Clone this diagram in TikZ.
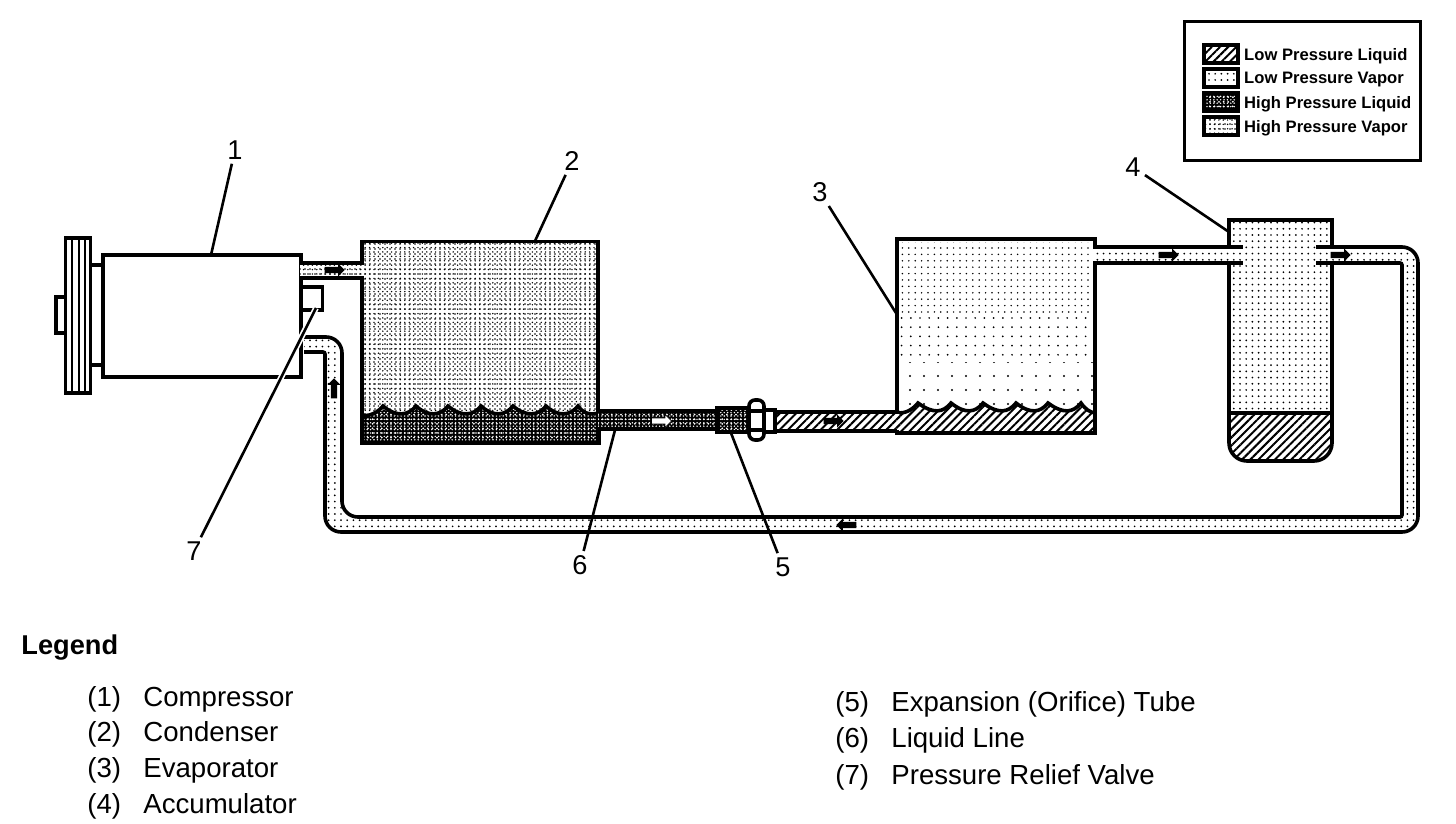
\documentclass[tikz,border=0pt]{standalone}
\usepackage{fontspec}
\setmainfont{Liberation Sans}
\usepackage{tikz}
\usetikzlibrary{positioning, shapes.arrows, patterns.meta}
\tikzset{
    lowliquid/.style={preaction={fill=white}, pattern={Lines[angle=45,distance=2.9pt,line width=1pt]}},
    lowvapor/.style={preaction={fill=white}, pattern={Dots[distance=3.1pt,radius=.48pt]}},
    highliquid/.style={preaction={fill=black}, preaction={pattern={Dots[distance=2.3pt,radius=.5pt]}, pattern color=white}, pattern={Dots[distance=1.7pt,radius=.4pt]}, pattern color=white},
    highvapor/.style={preaction={fill=white}, preaction={pattern={Dots[distance=2.5pt,radius=.42pt]}}, pattern={Dots[distance=2.2pt,radius=.4pt]}}
}

\begin{document}
\begin{tikzpicture}[
    x=0.5pt, y=-0.5pt,
    wall/.style={draw, line width=1.8pt},
    partbox/.style={rectangle, draw, fill=white, line width=1.8pt, inner sep=0pt},
    swatch/.style={rectangle, draw, line width=1.8pt, inner sep=0pt, minimum width=17pt, minimum height=9pt},
    flowmark/.style={single arrow, fill=black, inner sep=1.3pt, minimum height=10pt, minimum width=6.5pt, single arrow head extend=1.6pt, single arrow head indent=0pt},
    numlabel/.style={font=\fontsize{13.6}{16}\selectfont, inner sep=2pt},
    leader/.style={line width=1.3pt, preaction={draw=white, line width=3pt}},
    legendtext/.style={font=\fontsize{13.8}{16}\selectfont, anchor=base west, inner sep=0pt}
]
    \useasboundingbox (0,0) rectangle (1456,824);

    % Compressor with pulley
    \node[partbox, minimum width=6.5pt, minimum height=50pt] (shaft) at (96.5,315) {};
    \node[partbox, minimum width=5pt, minimum height=18pt] (hub) at (61,315) {};
    \node[partbox, minimum width=12.5pt, minimum height=77.5pt] (pulley) at (78,315.5) {};
    \foreach \x in {72,79,85}
        \draw[line width=1.4pt] (\x,240) -- (\x,391);
    \node[partbox, minimum width=99pt, minimum height=61pt] (compressor) at (202,316) {};
    \node[partbox, minimum width=10.5pt, minimum height=11.5pt] (valve) at (312,298.5) {};

    % Condenser
    \node[partbox, highvapor, minimum width=118pt, minimum height=100.5pt] (condenser) at (480,342) {};
    \draw[highliquid, draw=black, line width=1.8pt] (362,414)
        \foreach \x in {383,416,448,481,513,546,578} { .. controls (\x-20,417) and (\x-8,416) .. (\x,406) }
        .. controls (584,414) and (590,415) .. (599,413) -- (599,443) -- (362,443) -- cycle;

    % Evaporator
    \node[partbox, minimum width=99pt, minimum height=97pt] (evaporator) at (996,336) {};
    \fill[pattern={Dots[distance=3.2pt,radius=.42pt]}] (900,242) rectangle (1093,312);
    \fill[pattern={Dots[distance=4.6pt,radius=.48pt]}] (900,312) rectangle (1093,362);
    \fill[pattern={Dots[distance=7pt,radius=.6pt]}] (900,362) rectangle (1093,410);
    \draw[lowliquid, draw=black, line width=1.8pt] (897,412)
        \foreach \x in {918,951,983,1016,1048,1081} { .. controls (\x-18,414) and (\x-8,413) .. (\x,403) }
        .. controls (1086,410) and (1090,412) .. (1095,413) -- (1095,433) -- (897,433) -- cycle;

    % Accumulator
    \draw[lowvapor, draw=black, line width=1.8pt] (1229,413) -- (1229,220) -- (1332,220) -- (1332,413) -- cycle;
    \draw[lowliquid, draw=black, line width=1.8pt] (1229,413) [rounded corners=9pt] -- (1229,461) -- (1332,461) [sharp corners] -- (1332,413) -- cycle;

    % Pipes - fill first, then the walls
    \fill[highvapor] (300,265) rectangle (364,276);
    \draw[wall] (301,263) -- (361,263);
    \draw[wall] (301,278) -- (361,278);
    \fill[lowvapor] (1093,249) rectangle (1243,261);
    \draw[wall] (1095,247) -- (1243,247);
    \draw[wall] (1095,263) -- (1243,263);
    \fill[lowvapor] (304,337) [rounded corners=8pt] -- (342,337) -- (342,517) [rounded corners=1pt] -- (1402,517) -- (1402,263) [sharp corners] -- (1316,263) -- (1316,247) [rounded corners=8pt] -- (1418,247) -- (1418,532) -- (325,532) [rounded corners=1pt] -- (325,352) [sharp corners] -- (304,352) -- cycle;
    \draw[wall] (304,337) [rounded corners=8pt] -- (342,337) -- (342,517) [rounded corners=1pt] -- (1402,517) -- (1402,263) [sharp corners] -- (1316,263);
    \draw[wall] (1316,247) [rounded corners=8pt] -- (1418,247) -- (1418,532) -- (325,532) [rounded corners=1pt] -- (325,352) [sharp corners] -- (304,352);

    % Liquid line and expansion tube
    \fill[highliquid] (598,411) rectangle (717,429);
    \draw[wall] (598,411) -- (717,411);
    \draw[wall] (598,429) -- (717,429);
    \node[rectangle, draw, highliquid, line width=1.8pt, inner sep=0pt, minimum width=16.5pt, minimum height=12pt] (tube) at (733.5,420) {};
    \fill[lowliquid] (775,413) rectangle (899,430);
    \draw[wall] (775,412) -- (899,412);
    \draw[wall] (775,431) -- (897,431);
    \node[partbox, minimum width=5.5pt, minimum height=11pt] (collar) at (769.5,421) {};
    \node[partbox, rounded corners=3pt, minimum width=7.5pt, minimum height=20pt] (nut) at (756.5,420) {};
    \draw[wall] (nut.west |- 0,411) -- (nut.east |- 0,411);
    \draw[wall] (nut.west |- 0,430) -- (nut.east |- 0,430);

    % Flow marks
    \node[flowmark] (flow1) at (333,270) {};
    \node[flowmark, fill=white, draw=black, line width=.4pt] (flow2) at (660,421) {};
    \node[flowmark] (flow3) at (832,421) {};
    \node[flowmark] (flow4) at (1167,255) {};
    \node[flowmark] (flow5) at (1339,255) {};
    \node[flowmark, rotate=90] (flow6) at (334,390) {};
    \node[flowmark, rotate=180] (flow7) at (848,525) {};

    % Numbers and their lines
    \node[numlabel] (num1) at (235,150) {1};
    \node[numlabel] (num2) at (572,161) {2};
    \node[numlabel] (num3) at (820,192) {3};
    \node[numlabel] (num4) at (1133,167) {4};
    \node[numlabel] (num5) at (783,567) {5};
    \node[numlabel] (num6) at (580,565) {6};
    \node[numlabel] (num7) at (194,551) {7};
    \coordinate (tip1) at (211,255);
    \coordinate (tip2) at (535,241);
    \coordinate (tip3) at (896,313);
    \coordinate (tip4) at (1229,232);
    \coordinate (tip5) at (731,433);
    \coordinate (tip6) at (615,430);
    \coordinate (tip7) at (316,308);
    \foreach \n in {1,...,6}
        \draw[line width=1.3pt] (num\n) -- (tip\n);
    \draw[leader] (num7) -- (tip7);

    % Key to the fills
    \node[rectangle, draw, line width=1.5pt, inner sep=0pt, minimum width=118pt, minimum height=69pt] (keybox) at (1302,91) {};
    \foreach \n/\y/\kind/\txt in {1/54/lowliquid/Low Pressure Liquid, 2/78/lowvapor/Low Pressure Vapor, 3/102/highliquid/High Pressure Liquid, 4/126/highvapor/High Pressure Vapor} {
        \node[swatch, \kind] (sw\n) at (1221,\y) {};
        \node[font=\fontsize{8.3}{10}\selectfont\bfseries, inner sep=0pt, right=2pt of sw\n, yshift=-1pt] (swtxt\n) {\txt};
    }

    % Legend
    \node[font=\fontsize{13.6}{16}\selectfont\bfseries, anchor=base west, inner sep=0pt] (legend) at (21,654) {Legend};
    \foreach \n/\y/\txt in {1/706/Compressor, 2/741/Condenser, 3/777/Evaporator, 4/813/Accumulator} {
        \node[legendtext] (idx\n) at (87,\y) {(\n)};
        \node[legendtext] (name\n) at (143,\y) {\txt};
    }
    \foreach \n/\y/\txt in {5/711/Expansion (Orifice) Tube, 6/747/Liquid Line, 7/784/Pressure Relief Valve} {
        \node[legendtext] (idx\n) at (835,\y) {(\n)};
        \node[legendtext] (name\n) at (891,\y) {\txt};
    }
\end{tikzpicture}
\end{document}
